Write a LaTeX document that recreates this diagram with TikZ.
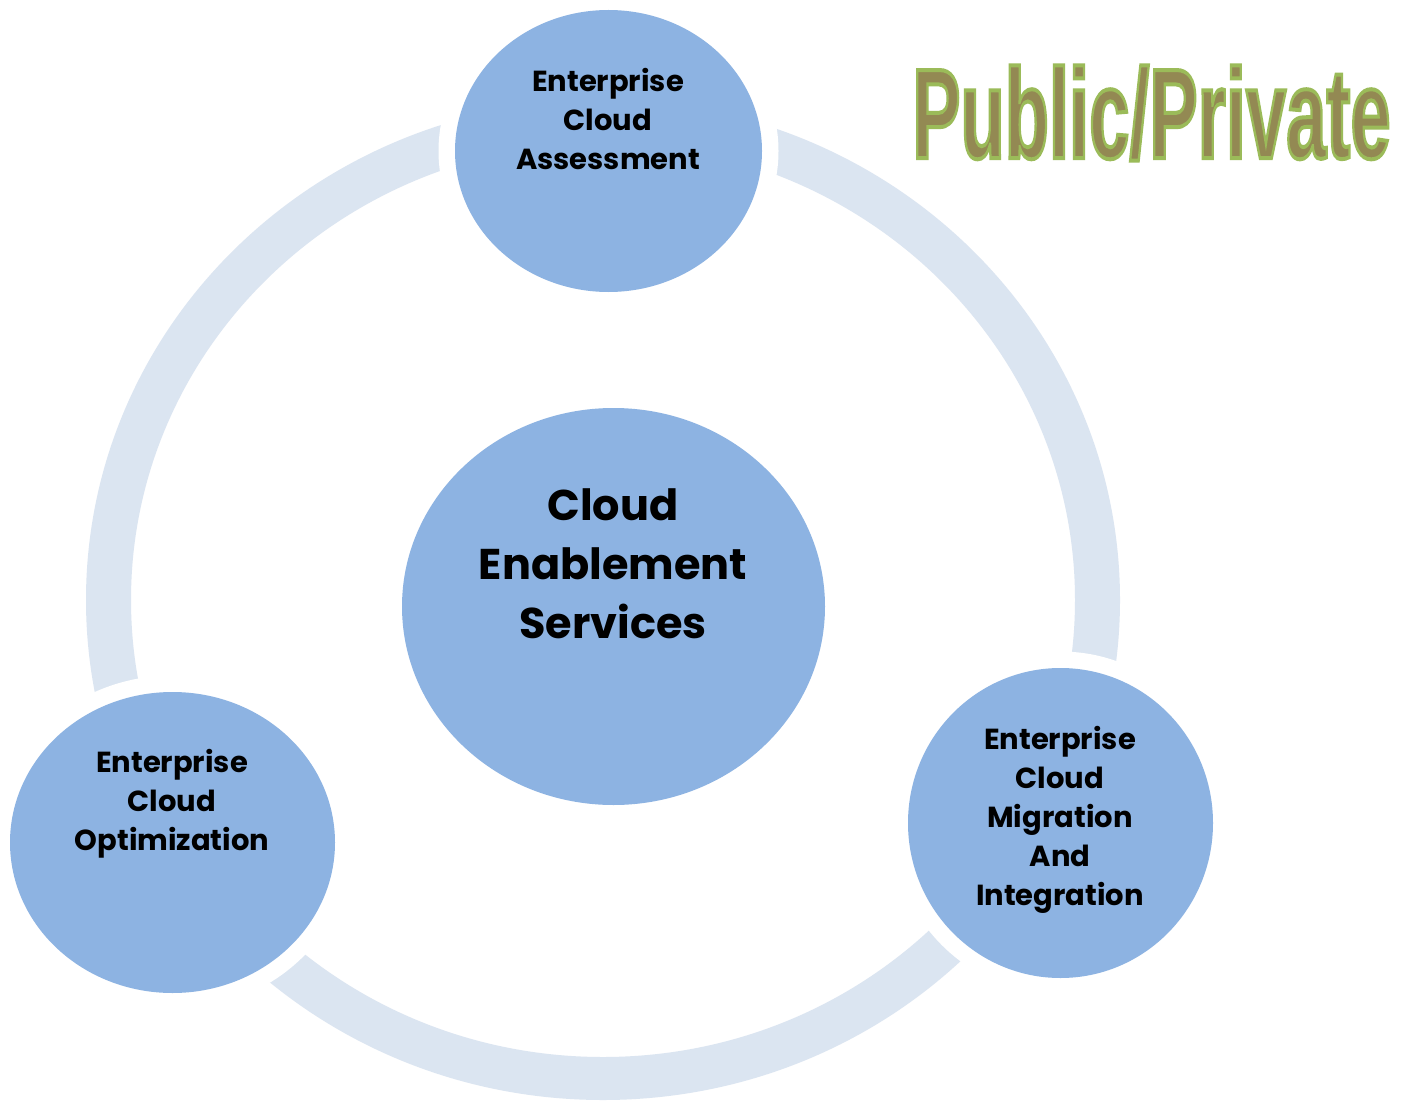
\documentclass[tikz,border=0pt]{standalone}
\usepackage{fontspec}
\usetikzlibrary{shapes.geometric}
\newfontfamily\labfont{Poppins}
\newfontfamily\titlefont{Liberation Sans}
\definecolor{bubfill}{HTML}{8DB3E2}
\definecolor{ringfill}{HTML}{DBE5F1}
\definecolor{titlefill}{HTML}{938953}
\definecolor{titleline}{HTML}{9BBB59}
\newcommand\titletext{\scalebox{0.565}[1]{\titlefont\bfseries\fontsize{128}{130}\selectfont
  \color{titlefill}\special{pdf:literal direct 2 Tr 4 w 0.608 0.733 0.349 RG}Public/Private\special{pdf:literal direct 0 Tr 1 w}}}
\tikzset{
  ring/.style={fill=ringfill, even odd rule},
  halo/.style={fill=white},
  bub/.style={ellipse, fill=bubfill, draw=none, inner sep=0pt},
  lab/.style={align=center, text=black, inner sep=0pt},
  smalllab/.style={lab, font=\labfont\bfseries\fontsize{29}{39}\selectfont},
  biglab/.style={lab, font=\labfont\bfseries\fontsize{43}{59}\selectfont},
}
\begin{document}
\begin{tikzpicture}[x=1pt,y=-1pt]
\useasboundingbox[fill=white] (0,0) rectangle (1411,1102);
% ring (cycle band)
\coordinate (ringc) at (603,600);
\fill[ring] (ringc) ellipse [x radius=517, y radius=500]
            (ringc) ellipse [x radius=472, y radius=457];
% bubble positions
\coordinate (assessc) at (608.5,151);
\coordinate (migrc) at (1060.5,823);
\coordinate (optimc) at (172.5,842.5);
% white gaps round the outer bubbles
\fill[halo] (assessc) ellipse [x radius=170, y radius=157.5];
\fill[halo] (migrc) ellipse [x radius=169, y radius=171.5];
\fill[halo] (optimc) ellipse [x radius=179, y radius=167];
% bubbles
\node[bub, minimum width=307pt, minimum height=282pt] (assess) at (assessc) {};
\node[bub, minimum width=423pt, minimum height=397pt] (core) at (613.5,606.5) {};
\node[bub, minimum width=305pt, minimum height=310pt] (migr) at (migrc) {};
\node[bub, minimum width=325pt, minimum height=301pt] (optim) at (optimc) {};
% labels
\node[smalllab] (assesslab) at (608,119) {Enterprise\\Cloud\\Assessment};
\node[biglab] (corelab) at (613,564) {Cloud\\Enablement\\Services};
\node[smalllab] (migrlab) at (1060,820) {Enterprise\\Cloud\\Migration\\And\\Integration};
\node[smalllab] (optimlab) at (172,804) {Enterprise\\Cloud\\Optimization};
% title
\node[inner sep=0pt] (title) at (1151.5,113) {\titletext};
\end{tikzpicture}
\end{document}
